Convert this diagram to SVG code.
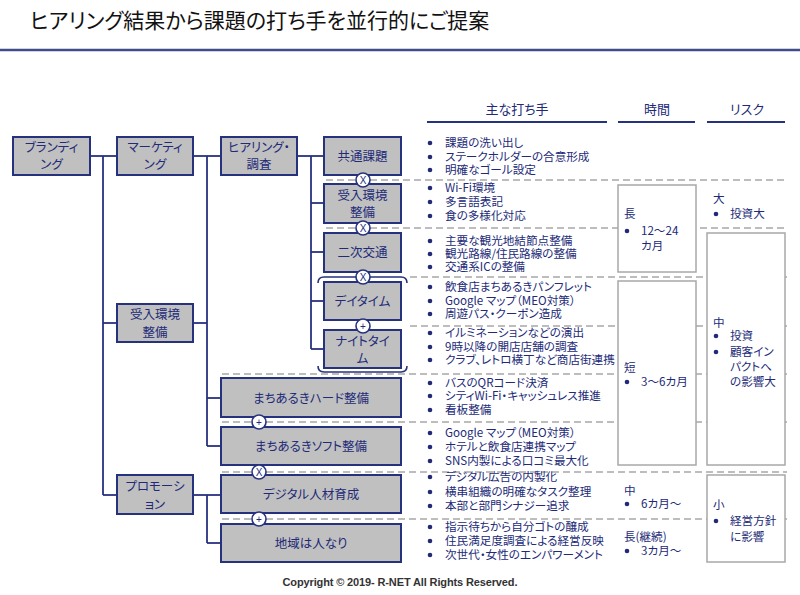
<svg xmlns="http://www.w3.org/2000/svg" width="800" height="595" viewBox="0 0 800 595">
<style>
text{font-family:"Noto Sans CJK JP","Noto Sans",sans-serif;font-feature-settings:"palt";fill:#222a78;}
.title{font-size:21px;fill:#111;}
.hdr{font-size:13px;text-anchor:middle;fill:#222a78;}
.node rect{fill:#c0c0c0;stroke:#27327f;stroke-width:2;}
.node text{font-size:12.5px;text-anchor:middle;}
.conn line{stroke:#27327f;stroke-width:1.8;}
.dash{stroke:#a8a8a8;stroke-width:1.5;stroke-dasharray:7,4;fill:none;}
.op circle{fill:#fff;stroke:#27327f;stroke-width:1.6;}
.op text{font-size:10px;text-anchor:middle;font-family:"Liberation Sans",sans-serif;}
.bl text{font-size:11.6px;}
.bl circle{fill:#222a78;}
.rb{fill:#fff;stroke:#a8a8a8;stroke-width:1.5;}
.ul{stroke:#27327f;stroke-width:2;}
.br{fill:none;stroke:#27327f;stroke-width:1.6;}
</style>
<text class="title" x="30" y="28">ヒアリング結果から課題の打ち手を並行的にご提案</text>
<line x1="0" y1="50" x2="800" y2="50" stroke="#3f4c8c" stroke-width="2.5"/>

<g id="headers">
<text class="hdr" x="517" y="114">主な打ち手</text>
<line class="ul" x1="427" y1="122" x2="607" y2="122"/>
<text class="hdr" x="657" y="114">時間</text>
<line class="ul" x1="618" y1="122" x2="695" y2="122"/>
<text class="hdr" x="747" y="114">リスク</text>
<line class="ul" x1="707" y1="122" x2="785" y2="122"/>
</g>

<g id="separators">
<line class="dash" x1="326" y1="180" x2="787" y2="180"/>
<line class="dash" x1="326" y1="228" x2="787" y2="228"/>
<line class="dash" x1="410" y1="277" x2="787" y2="277"/>
<line class="dash" x1="410" y1="326" x2="787" y2="326"/>
<line class="dash" x1="222" y1="374" x2="787" y2="374"/>
<line class="dash" x1="222" y1="422" x2="787" y2="422"/>
<line class="dash" x1="222" y1="472" x2="787" y2="472"/>
<line class="dash" x1="222" y1="519" x2="787" y2="519"/>
</g>

<g id="connectors" class="conn">
<line x1="90" y1="156" x2="117" y2="156"/>
<line x1="103" y1="156" x2="103" y2="495"/>
<line x1="103" y1="323" x2="117" y2="323"/>
<line x1="103" y1="495" x2="117" y2="495"/>
<line x1="193" y1="156" x2="221" y2="156"/>
<line x1="207" y1="156" x2="207" y2="446"/>
<line x1="193" y1="323" x2="207" y2="323"/>
<line x1="207" y1="398" x2="221" y2="398"/>
<line x1="207" y1="446" x2="221" y2="446"/>
<line x1="297" y1="156" x2="324" y2="156"/>
<line x1="311" y1="156" x2="311" y2="349"/>
<line x1="311" y1="203" x2="324" y2="203"/>
<line x1="311" y1="252" x2="324" y2="252"/>
<line x1="311" y1="301" x2="324" y2="301"/>
<line x1="311" y1="349" x2="324" y2="349"/>
<line x1="193" y1="495" x2="221" y2="495"/>
<line x1="207" y1="495" x2="207" y2="543"/>
<line x1="207" y1="543" x2="221" y2="543"/>
</g>

<g id="n-branding" class="node"><rect x="13" y="137" width="77" height="38"/><text x="51.5" y="152">ブランディ</text><text x="51.5" y="169">ング</text></g>
<g id="n-marketing" class="node"><rect x="117" y="137" width="76" height="38"/><text x="155" y="152">マーケティ</text><text x="155" y="169">ング</text></g>
<g id="n-hearing" class="node"><rect x="221" y="137" width="76" height="38"/><text x="259" y="152">ヒアリング・</text><text x="259" y="169">調査</text></g>
<g id="n-kyotsu" class="node"><rect x="324" y="137" width="77" height="38"/><text x="362.5" y="160.5">共通課題</text></g>
<g id="n-ukeire2" class="node"><rect x="324" y="184" width="77" height="39"/><text x="362.5" y="200">受入環境</text><text x="362.5" y="217">整備</text></g>
<g id="n-niji" class="node"><rect x="324" y="233" width="77" height="39"/><text x="362.5" y="257">二次交通</text></g>
<g id="n-day" class="node"><rect x="324" y="282" width="77" height="38"/><text x="362.5" y="305.5">デイタイム</text></g>
<g id="n-night" class="node"><rect x="324" y="330" width="77" height="38"/><text x="362.5" y="346">ナイトタイ</text><text x="362.5" y="363">ム</text></g>
<g id="n-ukeire" class="node"><rect x="117" y="304" width="76" height="38"/><text x="155" y="319">受入環境</text><text x="155" y="337">整備</text></g>
<g id="n-promo" class="node"><rect x="117" y="475" width="76" height="39"/><text x="155" y="491">プロモーシ</text><text x="155" y="509">ョン</text></g>
<g id="n-hard" class="node"><rect x="221" y="378" width="180" height="39"/><text x="311" y="402.5">まちあるきハード整備</text></g>
<g id="n-soft" class="node"><rect x="221" y="427" width="180" height="38"/><text x="311" y="450.5">まちあるきソフト整備</text></g>
<g id="n-digital" class="node"><rect x="221" y="475" width="180" height="38"/><text x="311" y="498.5">デジタル人材育成</text></g>
<g id="n-chiiki" class="node"><rect x="221" y="524" width="180" height="38"/><text x="311" y="547.5">地域は人なり</text></g>

<g id="brackets">
<path class="br" d="M318,283 Q318,277 324,277 H401 Q407,277 407,283"/>
<path class="br" d="M318,366 Q318,372 324,372 H401 Q407,372 407,366"/>
</g>

<g id="operators" class="op">
<g><circle cx="363" cy="180" r="7"/><text x="363" y="183.6">X</text></g>
<g><circle cx="363" cy="228" r="7"/><text x="363" y="231.6">X</text></g>
<g><circle cx="363" cy="277" r="7"/><text x="363" y="280.6">X</text></g>
<g><circle cx="363" cy="326" r="7"/><text x="363" y="330" font-size="13">+</text></g>
<g><circle cx="259" cy="422" r="7"/><text x="259" y="426" font-size="13">+</text></g>
<g><circle cx="259" cy="472" r="7"/><text x="259" y="475.6">X</text></g>
<g><circle cx="259" cy="519" r="7"/><text x="259" y="523" font-size="13">+</text></g>
</g>

<g id="bullets" class="bl">
<circle cx="430" cy="143" r="2.3"/><text x="445" y="147.2">課題の洗い出し</text>
<circle cx="430" cy="157" r="2.3"/><text x="445" y="161.2">ステークホルダーの合意形成</text>
<circle cx="430" cy="170" r="2.3"/><text x="445" y="174.2">明確なゴール設定</text>
<circle cx="430" cy="188" r="2.3"/><text x="445" y="192.2">Wi-Fi環境</text>
<circle cx="430" cy="202" r="2.3"/><text x="445" y="206.2">多言語表記</text>
<circle cx="430" cy="216" r="2.3"/><text x="445" y="220.2">食の多様化対応</text>
<circle cx="430" cy="241" r="2.3"/><text x="445" y="245.2">主要な観光地結節点整備</text>
<circle cx="430" cy="254" r="2.3"/><text x="445" y="258.2">観光路線/住民路線の整備</text>
<circle cx="430" cy="267" r="2.3"/><text x="445" y="271.2">交通系ICの整備</text>
<circle cx="430" cy="287" r="2.3"/><text x="445" y="291.2">飲食店まちあるきパンフレット</text>
<circle cx="430" cy="301" r="2.3"/><text x="445" y="305.2">Google マップ（MEO対策）</text>
<circle cx="430" cy="314" r="2.3"/><text x="445" y="318.2">周遊パス・クーポン造成</text>
<circle cx="430" cy="333" r="2.3"/><text x="445" y="337.2">イルミネーションなどの演出</text>
<circle cx="430" cy="347" r="2.3"/><text x="445" y="351.2">9時以降の開店店舗の調査</text>
<circle cx="430" cy="360" r="2.3"/><text x="445" y="364.2">クラブ、レトロ横丁など商店街連携</text>
<circle cx="430" cy="383" r="2.3"/><text x="445" y="387.2">バスのQRコード決済</text>
<circle cx="430" cy="396" r="2.3"/><text x="445" y="400.2">シティWi-Fi・キャッシュレス推進</text>
<circle cx="430" cy="410" r="2.3"/><text x="445" y="414.2">看板整備</text>
<circle cx="430" cy="433" r="2.3"/><text x="445" y="437.2">Google マップ（MEO対策）</text>
<circle cx="430" cy="447" r="2.3"/><text x="445" y="451.2">ホテルと飲食店連携マップ</text>
<circle cx="430" cy="461" r="2.3"/><text x="445" y="465.2">SNS内製による口コミ最大化</text>
<circle cx="430" cy="477" r="2.3"/><text x="445" y="481.2">デジタル広告の内製化</text>
<circle cx="430" cy="492" r="2.3"/><text x="445" y="496.2">横串組織の明確なタスク整理</text>
<circle cx="430" cy="506" r="2.3"/><text x="445" y="510.2">本部と部門シナジー追求</text>
<circle cx="430" cy="527" r="2.3"/><text x="445" y="531.2">指示待ちから自分ゴトの醸成</text>
<circle cx="430" cy="541" r="2.3"/><text x="445" y="545.2">住民満足度調査による経営反映</text>
<circle cx="430" cy="555" r="2.3"/><text x="445" y="559.2">次世代・女性のエンパワーメント</text>
</g>

<g id="time" class="bl">
<rect class="rb" x="618" y="185" width="78" height="87"/>
<text x="624" y="218">長</text>
<circle cx="627" cy="231" r="2.3"/><text x="641" y="235.2">12～24</text>
<text x="641" y="250">カ月</text>
<rect class="rb" x="618" y="281" width="78" height="184"/>
<text x="624" y="372">短</text>
<circle cx="627" cy="382" r="2.3"/><text x="641" y="386.2">3～6カ月</text>
<text x="624" y="495">中</text>
<circle cx="627" cy="504" r="2.3"/><text x="641" y="508.2">6カ月～</text>
<text x="624" y="541">長(継続)</text>
<circle cx="627" cy="551" r="2.3"/><text x="641" y="555.2">3カ月～</text>
</g>

<g id="risk" class="bl">
<text x="713" y="203">大</text>
<circle cx="716" cy="214" r="2.3"/><text x="730" y="218.2">投資大</text>
<rect class="rb" x="707" y="233" width="78" height="232"/>
<text x="713" y="327">中</text>
<circle cx="716" cy="336" r="2.3"/><text x="730" y="340.2">投資</text>
<circle cx="716" cy="352" r="2.3"/><text x="730" y="356.2">顧客イン</text>
<text x="730" y="371">パクトへ</text>
<text x="730" y="386">の影響大</text>
<rect class="rb" x="707" y="475" width="78" height="87"/>
<text x="713" y="509">小</text>
<circle cx="716" cy="521" r="2.3"/><text x="730" y="525.2">経営方針</text>
<text x="730" y="541">に影響</text>
</g>

<text x="400" y="586" text-anchor="middle" font-size="11" font-weight="bold" style="fill:#333;font-family:'Liberation Sans',sans-serif" textLength="235">Copyright © 2019- R-NET All Rights Reserved.</text>
</svg>
